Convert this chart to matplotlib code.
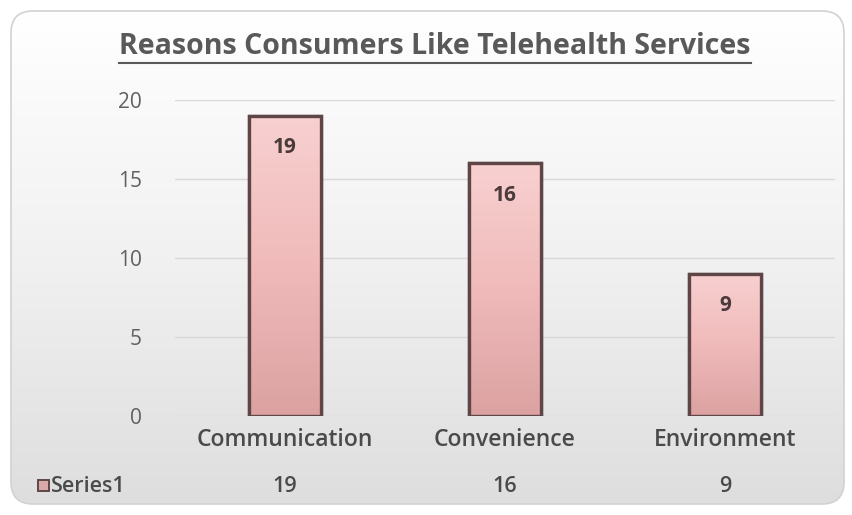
import numpy as np
import matplotlib
matplotlib.use("Agg")
import matplotlib.pyplot as plt
from matplotlib.patches import FancyBboxPatch, Rectangle
from matplotlib.colors import LinearSegmentedColormap
import matplotlib.transforms as mtransforms

plt.rcParams['font.family'] = ['Open Sans', 'DejaVu Sans']

# data
categories = ["Communication", "Convenience", "Environment"]
values = [19, 16, 9]
series_name = "Series1"
title = "Reasons Consumers Like Telehealth Services"

fig = plt.figure(figsize=(8.53, 5.15), dpi=100)
fig.patch.set_facecolor("white")

# rounded chart background with white -> grey gradient
bg = fig.add_axes([0, 0, 1, 1], zorder=-10)
bg.set_xlim(0, 853)
bg.set_ylim(515, 0)
bg.axis("off")
frame = FancyBboxPatch((11, 11), 833, 493, boxstyle="round,pad=0,rounding_size=22",
                       facecolor="none", edgecolor="#d2d2d2", linewidth=1.2)
bg.add_patch(frame)
grad = np.linspace(0, 1, 256).reshape(-1, 1)
bgcmap = LinearSegmentedColormap.from_list("bg", ["#ffffff", "#f1f1f1", "#dedede"])
im = bg.imshow(grad, extent=(11, 844, 504, 11), cmap=bgcmap, aspect="auto", zorder=-1)
im.set_clip_path(frame)

ax = fig.add_axes([175 / 853, 1 - 416 / 515, 660 / 853, 316 / 515])
ax.patch.set_alpha(0)
x = np.arange(len(categories))
ax.set_yticks([0, 5, 10, 15, 20])
ax.yaxis.grid(True, color="#d8d8d8", linewidth=1)
ax.set_axisbelow(True)
for s in ax.spines.values():
    s.set_visible(False)
ax.tick_params(axis="y", length=0, pad=24, labelsize=15, labelcolor="#606060")
ax.tick_params(axis="x", length=0, pad=9, labelsize=16.5, labelcolor="#4a4a4a")
ax.set_xticks(x)
ax.set_xticklabels(categories, fontweight="semibold")

barcmap = LinearSegmentedColormap.from_list("bar", ["#f8d0d0", "#f0baba", "#dca2a2"])
bars = ax.bar(x, values, width=0.33, facecolor="#efb9b9", edgecolor="#5e4646",
              linewidth=2.4, zorder=3)
for b in bars:
    x0, w, h = b.get_x(), b.get_width(), b.get_height()
    g = ax.imshow(np.linspace(0, 1, 100).reshape(-1, 1), extent=(x0, x0 + w, 0, h),
                  cmap=barcmap.reversed(), aspect="auto", zorder=3.5, origin="lower")
    g.set_clip_path(b)
    ax.add_patch(Rectangle((x0, 0), w, h, facecolor="none", edgecolor="#5e4646",
                           linewidth=2.4, zorder=4))
    ax.annotate(str(int(h)), (x0 + w / 2, h), xytext=(0, -23), textcoords="offset points",
                ha="center", va="center", fontsize=15, fontweight="bold",
                color="#4a3a3a", zorder=5)
ax.set_xlim(-0.5, len(categories) - 0.5)
ax.set_ylim(0, 20)

# title, underlined
t = fig.text(435 / 853, 1 - 47 / 515, title, ha="center", va="center",
             fontsize=20.5, fontweight="bold", color="#595959")
fig.canvas.draw()
bb = t.get_window_extent()
bg.plot([bb.x0, bb.x1], [515 - bb.y0 + 1, 515 - bb.y0 + 1], color="#595959", linewidth=1.5)

# data table row
trans = mtransforms.blended_transform_factory(ax.transData, fig.transFigure)
for xi, v in zip(x, values):
    ax.text(xi, 1 - 486 / 515, str(v), transform=trans, ha="center", va="center",
            fontsize=15.5, fontweight="semibold", color="#4a4a4a")
bg.add_patch(Rectangle((38, 480), 11, 11, facecolor="#d9a9a9", edgecolor="#5e4646",
                       linewidth=1.4))
bg.text(51, 486, series_name, ha="left", va="center", fontsize=15.5,
        fontweight="semibold", color="#4a4a4a")

fig.savefig("out.png", dpi=100)
